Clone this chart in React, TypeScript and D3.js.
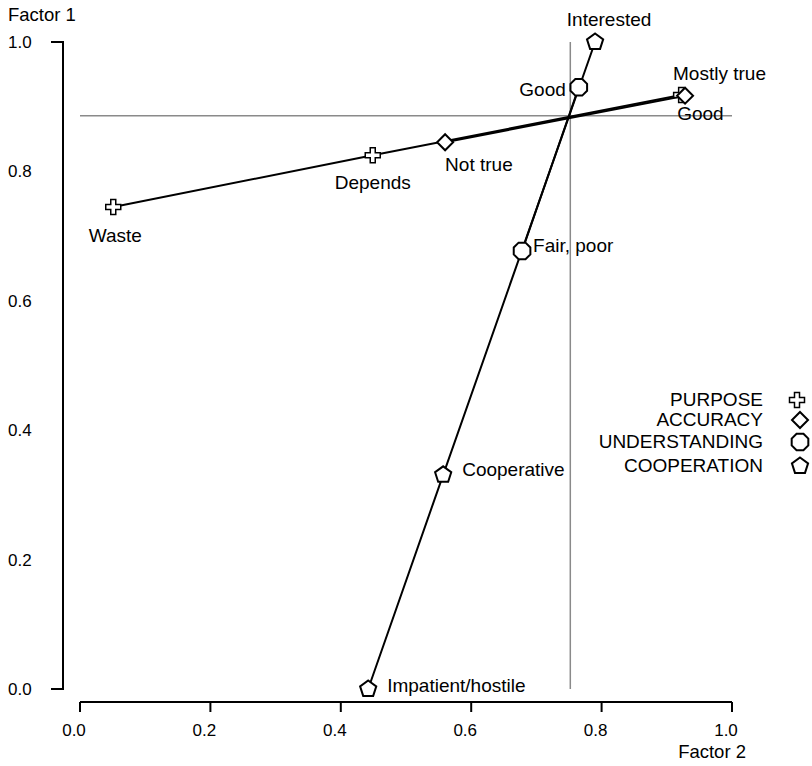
import * as d3 from 'd3';

// factor coordinates
const purposeLabels = ["Waste", "Depends", "Good"];
const purposeX = [0.051, 0.449, 0.922];
const purposeY = [0.745, 0.825, 0.918];

const accuracyLabels = ["Not true", "Mostly true"];
const accuracyX = [0.56, 0.928];
const accuracyY = [0.845, 0.917];

const understandingLabels = ["Fair, poor", "Good"];
const understandingX = [0.678, 0.765];
const understandingY = [0.677, 0.93];

const cooperationLabels = ["Impatient/hostile", "Cooperative", "Interested"];
const cooperationX = [0.442, 0.557, 0.79];
const cooperationY = [0.0, 0.331, 1.0];

const seriesNames = ["PURPOSE", "ACCURACY", "UNDERSTANDING", "COOPERATION"];
const xTicks = [0, 0.2, 0.4, 0.6, 0.8, 1.0];
const yTicks = [0, 0.2, 0.4, 0.6, 0.8, 1.0];
const refX = 0.752;
const refY = 0.886;

const font = "'Liberation Sans', Arial, Helvetica, sans-serif";

function markerPath(kind: string) {
  if (kind === "plus") {
    const a = 7.5, b = 2.5;
    return `M${-b},${-a}H${b}V${-b}H${a}V${b}H${b}V${a}H${-b}V${b}H${-a}V${-b}H${-b}Z`;
  }
  const sides = kind === "diamond" ? 4 : kind === "octagon" ? 8 : 5;
  const r = kind === "diamond" ? 8 : kind === "octagon" ? 9 : 8.5;
  const rot = kind === "octagon" ? Math.PI / 8 : 0;
  const pts = d3.range(sides).map(i => {
    const t = rot + (i * 2 * Math.PI) / sides - Math.PI / 2;
    return [r * Math.cos(t), r * Math.sin(t)] as [number, number];
  });
  return d3.line()(pts) + "Z";
}

export default function App() {
  const width = 812;
  const height = 766;
  const x = d3.scaleLinear().domain([0, 1]).range([80, 732]);
  const y = d3.scaleLinear().domain([0, 1]).range([689, 42]);

  const series = [
    { labels: purposeLabels, xs: purposeX, ys: purposeY, marker: "plus",
      offs: [[2, 35, "middle"], [0, 34, "middle"], [-4, 25, "start"]] },
    { labels: accuracyLabels, xs: accuracyX, ys: accuracyY, marker: "diamond",
      offs: [[0, 29, "start"], [-12, -16, "start"]] },
    { labels: understandingLabels, xs: understandingX, ys: understandingY, marker: "octagon",
      offs: [[11, 1, "start"], [-13, 9, "end"]] },
    { labels: cooperationLabels, xs: cooperationX, ys: cooperationY, marker: "pentagon",
      offs: [[19, 3, "start"], [19, 1, "start"], [14, -16, "middle"]] },
  ];

  const line = d3.line<number>();
  const legendY = [400, 420, 442, 466];

  return (
    <svg width={width} height={height} style={{ position: "absolute", left: 0, top: 0, background: "#fff" }}
      fontFamily={font}>
      {/* reference lines */}
      <line x1={x(0)} x2={x(1)} y1={y(refY)} y2={y(refY)} stroke="#8a8a8a" strokeWidth={1.5} />
      <line x1={x(refX)} x2={x(refX)} y1={y(1)} y2={y(0)} stroke="#8a8a8a" strokeWidth={1.5} />

      {/* y axis */}
      <path d={`M51,${y(1)}H63V${y(0)}H51`} fill="none" stroke="#000" strokeWidth={2} />
      {yTicks.map(t => (
        <text key={t} x={8} y={y(t) + 6} fontSize={17}>{t.toFixed(1)}</text>
      ))}
      <text x={8} y={21} fontSize={18.5}>Factor 1</text>

      {/* x axis */}
      <line x1={x(0)} x2={x(1)} y1={702} y2={702} stroke="#000" strokeWidth={2} />
      {xTicks.map(t => (
        <g key={t}>
          <line x1={x(t)} x2={x(t)} y1={702} y2={712} stroke="#000" strokeWidth={2} />
          <text x={x(t) - 6} y={736} fontSize={17} textAnchor="middle">{t.toFixed(1)}</text>
        </g>
      ))}
      <text x={746} y={758} fontSize={18.5} textAnchor="end">Factor 2</text>

      {/* series lines */}
      {series.map((s, i) => (
        <path key={"l" + i}
          d={line(s.xs.map((v, j) => [x(v), y(s.ys[j])]) as any) || ""}
          fill="none" stroke="#000" strokeWidth={2} />
      ))}

      {/* markers */}
      {series.map((s, i) => s.xs.map((v, j) => (
        <path key={"m" + i + "-" + j} d={markerPath(s.marker)} transform={`translate(${x(v)},${y(s.ys[j])})`}
          fill="#fff" stroke="#000" strokeWidth={s.marker === "plus" ? 1.5 : 2} />
      )))}
      {/* point labels */}
      {series.map((s, i) => s.xs.map((v, j) => (
        <text key={"t" + i + "-" + j} x={x(v) + (s.offs[j][0] as number)} y={y(s.ys[j]) + (s.offs[j][1] as number)}
          fontSize={19} textAnchor={s.offs[j][2] as any}>{s.labels[j]}</text>
      )))}

      {/* legend */}
      {seriesNames.map((n, i) => (
        <g key={n}>
          <text x={763} y={legendY[i] + 6} fontSize={19} textAnchor="end">{n}</text>
          <path d={markerPath(series[i].marker)} transform={`translate(${i === 0 ? 797 : 800},${legendY[i]})`}
            fill="#fff" stroke="#000" strokeWidth={series[i].marker === "plus" ? 1.5 : 2} />
        </g>
      ))}
    </svg>
  );
}
